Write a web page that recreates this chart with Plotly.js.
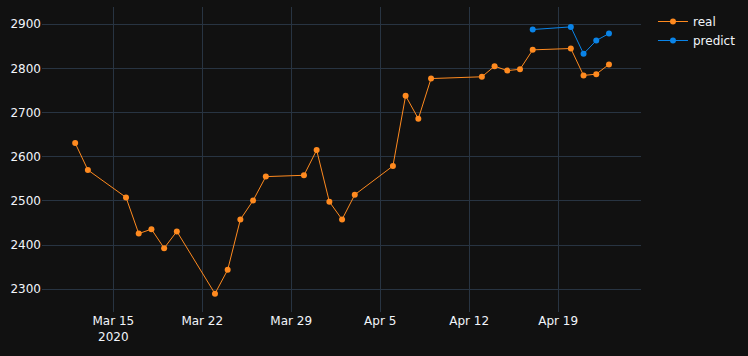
<!DOCTYPE html>
<html>
<head>
<meta charset="utf-8">
<script src="https://cdn.plot.ly/plotly-3.0.1.min.js"></script>
<style>html,body{margin:0;padding:0;background:#111111;}#chart{width:748px;height:356px;}</style>
</head>
<body>
<div id="chart"></div>
<script>
const realDates = ["2020-03-12","2020-03-13","2020-03-16","2020-03-17","2020-03-18","2020-03-19","2020-03-20",
  "2020-03-23","2020-03-24","2020-03-25","2020-03-26","2020-03-27","2020-03-30","2020-03-31",
  "2020-04-01","2020-04-02","2020-04-03","2020-04-06","2020-04-07","2020-04-08","2020-04-09",
  "2020-04-13","2020-04-14","2020-04-15","2020-04-16","2020-04-17","2020-04-20","2020-04-21",
  "2020-04-22","2020-04-23"];
const realValues = [2631,2570,2508,2426,2436,2393,2431,
  2290,2344,2458,2501,2555,2558,2615,
  2498,2458,2514,2579,2738,2686,2777,
  2781,2805,2795,2798,2842,2845,2784,
  2787,2809];
const predictDates = ["2020-04-17","2020-04-20","2020-04-21","2020-04-22","2020-04-23"];
const predictValues = [2888,2894,2833,2863,2879];

const traces = [
  {x: realDates, y: realValues, name: "real", type: "scatter", mode: "lines+markers",
   line: {color: "#FF8A1F", width: 1}, marker: {color: "#FF8A1F", size: 6}},
  {x: predictDates, y: predictValues, name: "predict", type: "scatter", mode: "lines+markers",
   line: {color: "#0A84E8", width: 1}, marker: {color: "#0A84E8", size: 6}}
];
const layout = {
  width: 748, height: 356,
  paper_bgcolor: "#111111", plot_bgcolor: "#111111",
  font: {family: "DejaVu Sans, Verdana, sans-serif", color: "#f2f5fa", size: 12},
  margin: {l: 42, r: 107, t: 7, b: 44},
  showlegend: true,
  legend: {x: 1.02, y: 1, xanchor: "left", yanchor: "top", font: {color: "#f2f5fa", size: 12}, bgcolor: "rgba(0,0,0,0)"},
  xaxis: {type: "date", range: ["2020-03-09 09:22", "2020-04-25 12:29"], gridcolor: "#283442",
    showline: false, zeroline: false, ticks: "", tickfont: {color: "#f2f5fa"},
    dtick: 7*24*3600*1000, tick0: "2020-03-15"},
  yaxis: {range: [2248.5, 2939], gridcolor: "#283442", zeroline: false, ticks: "",
    dtick: 100, tickfont: {color: "#f2f5fa"}},
  hovermode: "closest"
};
Plotly.newPlot("chart", traces, layout, {displayModeBar: false});
</script>
</body>
</html>
